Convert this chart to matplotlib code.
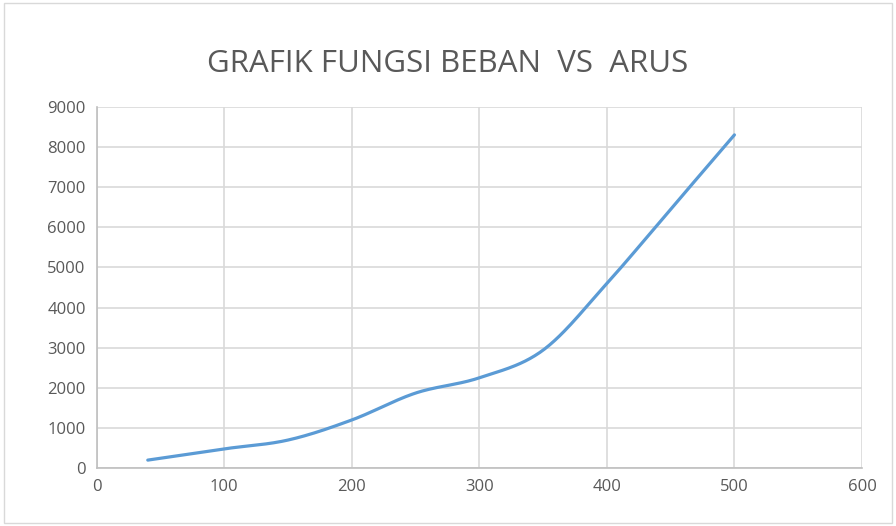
import numpy as np
import matplotlib.pyplot as plt

# data
arus = [40, 100, 150, 200, 250, 300, 350, 400, 450, 500]
beban = [200, 480, 700, 1200, 1870, 2250, 2940, 4600, 6450, 8300]

x_ticks = [0, 100, 200, 300, 400, 500, 600]
y_ticks = [0, 1000, 2000, 3000, 4000, 5000, 6000, 7000, 8000, 9000]


def smooth(xs, ys, n=40):
    # Catmull-Rom style smoothing, like Excel's smoothed line
    xs = np.asarray(xs, float)
    ys = np.asarray(ys, float)
    px = np.concatenate([[xs[0]], xs, [xs[-1]]])
    py = np.concatenate([[ys[0]], ys, [ys[-1]]])
    out_x, out_y = [], []
    t = np.linspace(0, 1, n)
    for i in range(1, len(px) - 2):
        p0x, p1x, p2x, p3x = px[i - 1:i + 3]
        p0y, p1y, p2y, p3y = py[i - 1:i + 3]
        c1x = p1x + (p2x - p0x) / 6
        c1y = p1y + (p2y - p0y) / 6
        c2x = p2x - (p3x - p1x) / 6
        c2y = p2y - (p3y - p1y) / 6
        bx = (1 - t) ** 3 * p1x + 3 * (1 - t) ** 2 * t * c1x + 3 * (1 - t) * t ** 2 * c2x + t ** 3 * p2x
        by = (1 - t) ** 3 * p1y + 3 * (1 - t) ** 2 * t * c1y + 3 * (1 - t) * t ** 2 * c2y + t ** 3 * p2y
        out_x.extend(bx)
        out_y.extend(by)
    return out_x, out_y


plt.rcParams["font.family"] = ["Open Sans", "DejaVu Sans"]

fig = plt.figure(figsize=(8.96, 5.26), dpi=100)
ax = fig.add_axes([0.108, 0.110, 0.854, 0.687])

sx, sy = smooth(arus, beban)
ax.plot(sx, sy, color="#5B9BD5", linewidth=2.3, solid_capstyle="round", zorder=3)

ax.set_xlim(0, 600)
ax.set_ylim(0, 9000)
ax.set_xticks(x_ticks)
ax.set_yticks(y_ticks)
ax.grid(True, color="#D9D9D9", linewidth=1.2)
ax.set_axisbelow(True)

for side in ["top", "right"]:
    ax.spines[side].set_visible(False)
for side in ["left", "bottom"]:
    ax.spines[side].set_color("#BFBFBF")
    ax.spines[side].set_linewidth(1.2)

ax.tick_params(length=0, labelsize=12, labelcolor="#595959", pad=8)

fig.text(0.5, 0.878, "GRAFIK FUNGSI BEBAN  VS  ARUS", ha="center", va="center",
         fontsize=22.5, color="#595959")

# chart area border
fig.patches.append(plt.Rectangle((0.005, 0.005), 0.99, 0.99, transform=fig.transFigure,
                                 fill=False, edgecolor="#D9D9D9", linewidth=1))

fig.savefig("out.png", dpi=100)
